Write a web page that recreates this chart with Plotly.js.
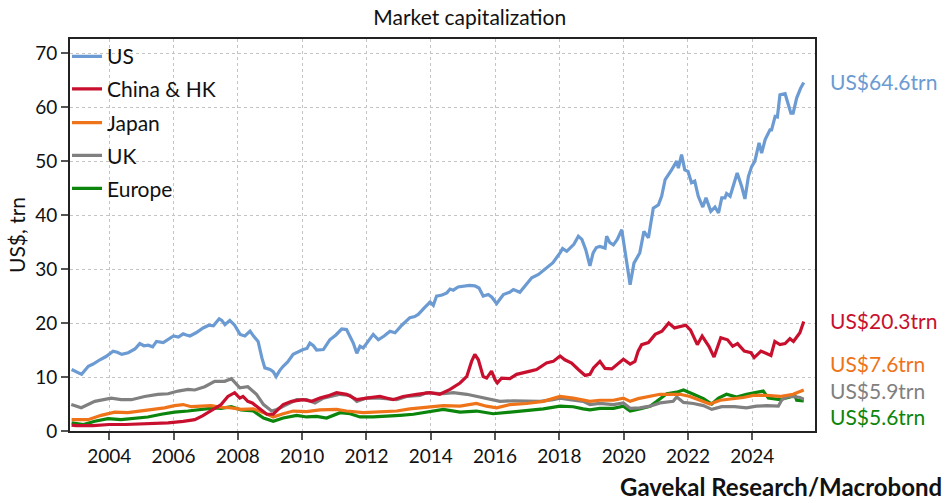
<!DOCTYPE html>
<html>
<head>
<meta charset="utf-8">
<script src="https://cdn.plot.ly/plotly-3.0.1.min.js"></script>
<style>html,body{margin:0;padding:0;background:#fff;}#chart{width:949px;height:503px;}</style>
</head>
<body>
<div id="chart"></div>
<script>
// ---- Data (decimal years, US$ trn) ----
var usX = [2002.83,2002.95,2003.14,2003.35,2003.5,2003.71,2003.9,2004.12,2004.25,2004.39,2004.59,2004.8,2004.95,2005.08,2005.21,2005.35,2005.47,2005.68,2005.85,2006.0,2006.15,2006.3,2006.4,2006.51,2006.7,2006.92,2007.1,2007.24,2007.42,2007.5,2007.6,2007.75,2007.9,2008.07,2008.22,2008.38,2008.5,2008.63,2008.75,2008.84,2009.0,2009.1,2009.19,2009.3,2009.41,2009.55,2009.72,2009.85,2010.03,2010.15,2010.24,2010.35,2010.45,2010.66,2010.86,2011.05,2011.23,2011.38,2011.5,2011.59,2011.7,2011.8,2011.9,2012.05,2012.21,2012.37,2012.55,2012.73,2012.89,2013.1,2013.35,2013.5,2013.61,2013.8,2013.98,2014.08,2014.18,2014.35,2014.5,2014.6,2014.7,2014.85,2015.06,2015.2,2015.37,2015.5,2015.63,2015.79,2015.9,2016.05,2016.15,2016.26,2016.45,2016.57,2016.77,2016.95,2017.14,2017.35,2017.6,2017.8,2018.02,2018.1,2018.23,2018.45,2018.59,2018.7,2018.82,2018.95,2019.05,2019.15,2019.26,2019.42,2019.47,2019.57,2019.68,2019.8,2019.94,2020.07,2020.2,2020.32,2020.5,2020.63,2020.77,2020.92,2021.08,2021.18,2021.29,2021.49,2021.65,2021.7,2021.8,2021.9,2022.0,2022.11,2022.21,2022.32,2022.46,2022.56,2022.71,2022.84,2022.95,2023.05,2023.15,2023.2,2023.31,2023.53,2023.67,2023.77,2023.88,2023.98,2024.08,2024.21,2024.29,2024.4,2024.55,2024.6,2024.71,2024.78,2024.86,2025.02,2025.2,2025.27,2025.38,2025.5,2025.6];
var usY = [11.4,11.0,10.5,12.0,12.4,13.2,13.8,14.8,14.6,14.2,14.5,15.2,16.2,15.8,15.9,15.6,16.6,16.4,17.0,17.6,17.4,18.0,17.8,17.6,18.2,19.1,19.6,19.5,20.8,20.5,19.7,20.5,19.6,17.9,17.6,18.5,17.5,16.6,13.5,11.7,11.4,11.0,10.1,11.2,12.0,12.8,14.2,14.6,15.1,15.3,16.3,15.8,15.0,15.1,16.9,17.8,18.9,18.8,17.5,16.3,14.4,15.7,15.4,16.5,17.9,16.9,17.6,18.5,18.2,19.6,21.0,21.2,21.6,22.8,23.9,23.3,25.0,25.2,25.6,26.3,26.1,26.7,26.9,27.0,26.9,26.5,25.0,25.3,24.8,23.6,24.4,25.3,25.7,26.2,25.7,27.0,28.4,29.0,30.2,31.2,33.0,33.8,33.3,34.6,36.1,35.5,33.6,30.6,33.0,34.0,34.2,33.9,36.1,34.9,34.5,35.5,37.3,32.4,27.1,31.1,33.0,37.0,35.8,41.3,41.9,43.5,46.6,48.4,50.0,48.7,51.2,48.4,48.1,46.0,46.3,43.5,41.5,43.2,40.7,41.5,40.4,43.2,43.2,44.0,43.5,47.8,45.3,43.0,47.2,49.0,50.0,53.4,51.5,54.0,55.8,55.8,58.3,58.2,62.3,62.5,58.9,58.9,61.7,63.5,64.6];

var chinaX = [2002.83,2002.97,2003.5,2004.0,2004.5,2005.0,2005.83,2006.3,2006.66,2006.9,2007.07,2007.3,2007.48,2007.69,2007.9,2008.06,2008.16,2008.31,2008.45,2008.64,2008.9,2009.1,2009.25,2009.41,2009.67,2010.03,2010.3,2010.55,2010.8,2011.07,2011.38,2011.7,2012.0,2012.42,2012.83,2013.14,2013.56,2013.97,2014.28,2014.6,2014.91,2015.12,2015.27,2015.37,2015.48,2015.63,2015.74,2015.89,2016.0,2016.07,2016.2,2016.46,2016.67,2016.93,2017.09,2017.29,2017.6,2017.81,2018.02,2018.17,2018.38,2018.59,2018.8,2018.95,2019.06,2019.26,2019.42,2019.63,2019.83,2019.99,2020.2,2020.35,2020.45,2020.56,2020.77,2020.98,2021.19,2021.4,2021.58,2021.75,2021.93,2022.08,2022.29,2022.44,2022.65,2022.81,2023.02,2023.23,2023.39,2023.54,2023.75,2023.96,2024.06,2024.27,2024.58,2024.7,2024.86,2025.02,2025.17,2025.28,2025.48,2025.6];
var chinaY = [1.1,1.0,1.0,1.2,1.2,1.3,1.5,1.8,2.1,2.8,3.4,4.1,4.9,6.4,7.1,6.1,6.4,5.5,5.2,4.3,3.1,3.1,4.0,4.9,5.5,5.8,5.5,6.1,6.5,7.1,6.8,5.8,6.1,6.4,5.8,6.4,6.8,7.1,6.8,7.7,8.9,10.1,12.9,14.2,13.2,10.1,9.8,11.1,9.5,8.9,9.8,9.7,10.5,10.8,11.1,11.4,12.6,12.9,13.9,13.2,12.6,11.4,10.3,10.5,11.7,12.9,11.6,11.5,12.6,13.3,12.4,12.9,14.8,16.0,16.4,17.9,18.5,20.0,19.1,19.4,19.6,18.7,16.0,17.6,15.7,13.7,17.3,16.9,15.7,16.2,14.8,14.5,13.6,14.8,14.0,16.6,16.0,16.2,17.1,16.6,18.2,20.3];

var japanX = [2002.83,2003.34,2003.75,2004.17,2004.58,2005.0,2005.41,2005.72,2006.03,2006.3,2006.55,2006.86,2007.17,2007.48,2007.8,2008.1,2008.48,2008.8,2009.1,2009.41,2009.72,2010.14,2010.55,2011.07,2011.38,2011.9,2012.42,2012.94,2013.35,2013.97,2014.39,2014.91,2015.42,2015.73,2016.05,2016.46,2016.98,2017.5,2018.02,2018.43,2018.74,2018.95,2019.26,2019.68,2019.99,2020.2,2020.45,2020.82,2021.13,2021.44,2021.75,2022.06,2022.37,2022.68,2023.0,2023.4,2023.72,2024.03,2024.45,2024.86,2025.27,2025.6];
var japanY = [2.1,2.1,2.9,3.5,3.4,3.7,4.0,4.3,4.7,4.9,4.5,4.6,4.7,4.4,4.3,4.0,4.1,3.4,2.6,3.2,3.7,3.6,3.9,4.0,3.7,3.4,3.5,3.7,4.1,4.5,4.7,4.6,5.1,4.6,4.3,4.9,5.1,5.5,6.4,6.1,5.8,5.5,5.7,5.7,6.1,5.5,6.0,6.4,6.8,6.8,6.8,6.4,5.7,5.0,5.7,5.9,6.2,6.6,6.6,6.4,6.8,7.6];

var ukX = [2002.82,2003.13,2003.55,2004.06,2004.37,2004.69,2005.1,2005.51,2005.83,2006.14,2006.45,2006.66,2006.97,2007.28,2007.59,2007.8,2008.06,2008.31,2008.58,2008.8,2009.05,2009.21,2009.52,2009.83,2010.14,2010.4,2010.66,2011.18,2011.49,2011.7,2012.0,2012.42,2012.94,2013.25,2013.66,2013.87,2014.39,2014.7,2015.12,2015.43,2015.84,2016.15,2016.57,2016.98,2017.4,2017.81,2018.02,2018.33,2018.74,2018.95,2019.26,2019.68,2019.99,2020.2,2020.5,2020.82,2021.13,2021.54,2021.65,2021.86,2022.17,2022.48,2022.74,2023.05,2023.45,2023.82,2024.13,2024.45,2024.81,2024.92,2025.07,2025.27,2025.48,2025.6];
var ukY = [4.9,4.3,5.5,6.1,5.8,5.8,6.4,6.8,6.9,7.4,7.7,7.6,8.2,9.2,9.2,9.7,8.0,8.2,6.8,4.9,3.7,4.0,4.9,5.8,5.8,5.2,6.1,6.8,6.6,5.5,6.1,6.1,5.8,6.4,6.6,7.1,6.9,7.1,6.8,6.4,6.0,5.5,5.6,5.6,5.5,5.8,6.1,5.8,5.5,4.9,5.1,4.9,5.2,4.2,4.3,4.6,5.2,5.5,6.3,5.3,5.1,4.7,4.0,4.5,4.5,4.3,4.6,4.7,4.6,5.8,6.3,6.4,6.2,5.9];

var europeX = [2002.83,2003.2,2003.55,2003.96,2004.37,2004.79,2005.2,2005.62,2006.03,2006.45,2006.86,2007.28,2007.48,2007.8,2008.1,2008.48,2008.8,2009.1,2009.41,2009.83,2010.14,2010.45,2010.76,2011.18,2011.49,2011.8,2012.21,2012.63,2013.04,2013.46,2013.87,2014.39,2014.91,2015.42,2015.94,2016.46,2016.98,2017.5,2018.02,2018.43,2018.74,2018.95,2019.26,2019.68,2019.99,2020.2,2020.5,2020.82,2021.03,2021.34,2021.65,2021.86,2022.17,2022.48,2022.74,2022.95,2023.2,2023.51,2023.82,2024.03,2024.34,2024.5,2024.86,2025.17,2025.31,2025.38,2025.6];
var europeY = [1.5,1.2,1.8,2.3,2.1,2.4,2.6,3.1,3.5,3.7,4.0,4.3,4.2,4.5,3.9,3.7,2.4,1.8,2.4,2.9,2.6,2.7,2.4,3.4,3.2,2.6,2.6,2.7,2.9,3.1,3.5,4.0,3.5,3.7,3.2,3.5,3.7,4.1,4.6,4.5,4.1,3.9,4.2,4.2,4.6,3.7,4.1,4.6,5.5,6.9,7.2,7.6,6.8,6.0,5.0,6.1,6.8,6.3,6.8,7.1,7.4,6.1,5.8,6.3,6.8,5.7,5.6];

var seriesNames = ["US", "China & HK", "Japan", "UK", "Europe"];
var endLabels = ["US$64.6trn", "US$20.3trn", "US$7.6trn", "US$5.9trn", "US$5.6trn"];
var tickYears = [2004, 2006, 2008, 2010, 2012, 2014, 2016, 2018, 2020, 2022, 2024];
var tickLabels = ["2004", "2006", "2008", "2010", "2012", "2014", "2016", "2018", "2020", "2022", "2024"];

// ---- Styles / layout ----
var colors = ["#6b9bd2", "#c8102e", "#ee7319", "#808080", "#0b850b"];
var xs = [usX, chinaX, japanX, ukX, europeX];
var ys = [usY, chinaY, japanY, ukY, europeY];
var legendIds = ["legend", "legend2", "legend3", "legend4", "legend5"];
var legendYs = [0.955, 0.872, 0.786, 0.702, 0.618];
var labelYs = [64.8, 20.4, 12.5, 7.5, 2.6];
var FONT = "Lato, 'Open Sans', sans-serif";

var traces = [];
for (var i = 0; i < 5; i++) {
  traces.push({
    x: xs[i], y: ys[i], name: seriesNames[i], type: "scatter", mode: "lines",
    line: {color: colors[i], width: 3.2},
    legend: legendIds[i], hoverinfo: "skip"
  });
}
traces = [traces[4], traces[3], traces[2], traces[1], traces[0]];

var layout = {
  width: 949, height: 503,
  margin: {l: 70, r: 134, t: 39, b: 72, pad: 0},
  paper_bgcolor: "#ffffff", plot_bgcolor: "#ffffff",
  font: {family: FONT, size: 19, color: "#111"},
  title: {text: "Market capitalization", x: 0.495, xref: "container", xanchor: "center", y: 0.965, yref: "container", yanchor: "middle", font: {family: FONT, size: 21, color: "#111"}},
  xaxis: {
    type: "linear", range: [2002.78, 2025.95],
    tickmode: "array", tickvals: tickYears, ticktext: tickLabels,
    ticks: "outside", ticklen: 7, tickwidth: 2, tickcolor: "#555",
    showline: true, linecolor: "#222", linewidth: 2, mirror: true,
    showgrid: true, gridcolor: "#c4c4c4", gridwidth: 1, griddash: "dot",
    zeroline: false, tickfont: {family: FONT, size: 19, color: "#111"}
  },
  yaxis: {
    range: [0, 72.64], tickvals: [0, 10, 20, 30, 40, 50, 60, 70],
    ticks: "outside", ticklen: 7, tickwidth: 2, tickcolor: "#555",
    showline: true, linecolor: "#222", linewidth: 2, mirror: true,
    showgrid: true, gridcolor: "#c4c4c4", gridwidth: 1, griddash: "dot",
    zeroline: false, tickfont: {family: FONT, size: 19, color: "#111"},
    title: {text: "US$, trn", font: {family: FONT, size: 21, color: "#111"}, standoff: 4}
  },
  annotations: [],
  showlegend: true
};

for (var j = 0; j < 5; j++) {
  layout[legendIds[j]] = {
    x: -0.004, xanchor: "left", y: legendYs[j], yanchor: "middle",
    bgcolor: "rgba(0,0,0,0)", borderwidth: 0,
    font: {family: FONT, size: 21, color: "#111"}, itemwidth: 30
  };
  layout.annotations.push({
    text: endLabels[j], xref: "paper", x: 1.018, xanchor: "left",
    yref: "y", y: labelYs[j], yanchor: "middle", showarrow: false,
    font: {family: FONT, size: 21, color: colors[j]}
  });
}
layout.annotations.push({
  text: "<b>Gavekal Research/Macrobond</b>", xref: "paper", x: 1.173, xanchor: "right",
  yref: "paper", y: -0.141, yanchor: "middle", showarrow: false,
  font: {family: FONT, size: 24, color: "#111"}
});

Plotly.newPlot("chart", traces, layout, {staticPlot: true, displayModeBar: false});
</script>
</body>
</html>
